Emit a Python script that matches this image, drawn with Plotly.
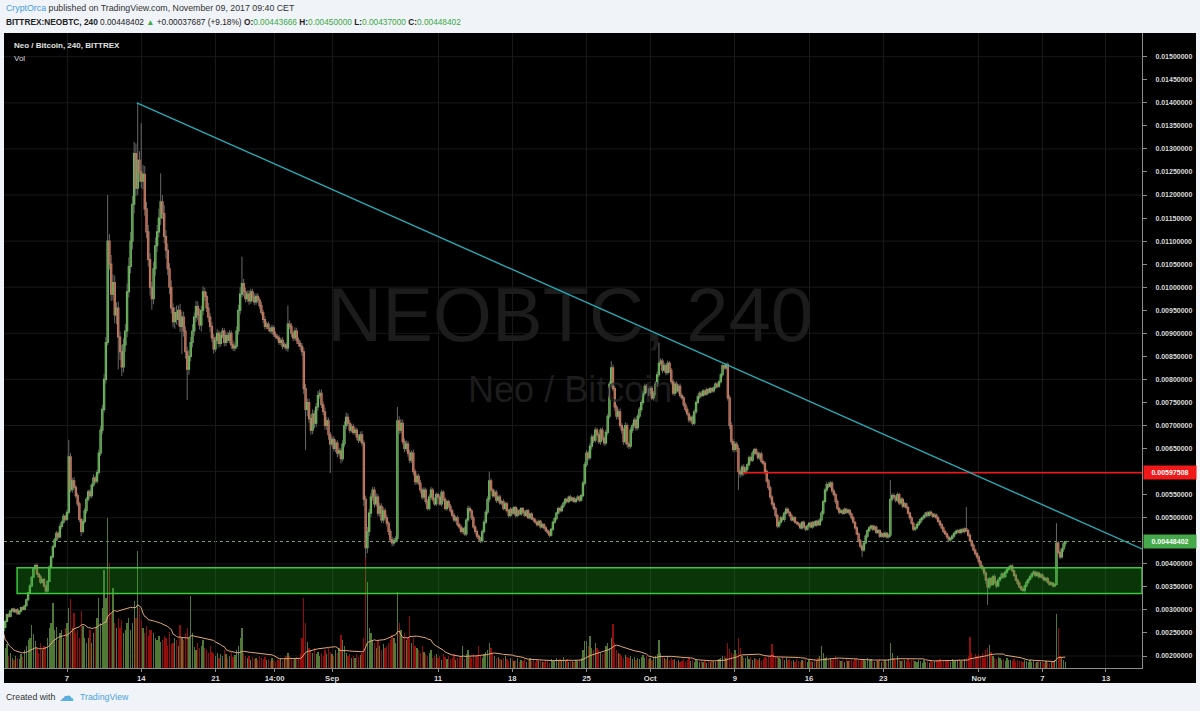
import numpy as np
import pandas as pd
import plotly.graph_objects as go

# ---------------- data (prices in units of 1e-5 BTC, 4h bars from 2017-08-01 00:00) -------------
UNIT = 1e-5
first_open = 255
close_u = [
262,275,290,286,298,302, 296,300,292,297,305,301, 309,322,337,352,371,390, 396,378,372,360,366,352,
341,362,393,415,437,452, 466,458,481,490,503,497, 512,632,561,580,566,548, 530,496,470,492,515,540,
556,548,571,586,579,598, 640,690,735,800,880,1100, 1050,985,1010,940,955,892, 860,827,875,905,990,1045,
1100,1180,1290,1215,1275,1250, 1230,1245,1170,1120,1060,1000, 975,1040,1090,1120,1150,1185,
1160,1110,1080,1040,1000,955, 925,945,930,950,915,935, 905,860,822,850,880,905, 935,958,940,918,950,990,
980,955,935,915,890,866, 885,900,878,895,905,880, 895,885,900,875,868,872, 905,950,985,1008,990,975,
985,970,990,978,968,980, 972,960,945,930,915,920, 910,905,912,898,893,890, 880,885,872,875,868,920,
915,900,890,905,885,878, 872,860,780,735,750,715, 690,725,705,740,765,770, 745,730,700,710,680,660,
670,650,662,640,645,628, 660,700,718,705,690,698, 685,690,675,668,680,662, 540,435,470,510,545,560,
530,545,510,525,495,515, 500,488,470,452,445,450, 455,710,690,705,665,650, 660,640,625,640,600,578,
590,575,560,545,560,535, 520,545,560,540,530,550, 545,530,555,540,520,535, 525,515,505,495,500,485,
480,470,476,465,495,520, 515,500,480,470,460,455, 450,470,490,512,540,580, 560,548,555,538,545,532,
535,520,530,515,505,518, 510,522,505,515,508,520, 512,505,515,500,508,498, 495,490,485,492,480,485,
478,472,468,462,475,490, 498,510,520,515,525,532, 540,535,545,538,542,535, 540,545,538,548,575,615,
640,630,655,675,668,690, 680,665,690,672,662,685, 720,790,825,780,740,720, 730,700,690,665,700,660,
655,690,700,712,695,720, 735,750,770,785,775,770,
780,760,770,790,810,835, 840,820,830,815,835,820, 795,770,790,775,785,765, 760,745,735,725,712,718,
705,730,750,762,770,765, 775,768,778,772,780,775, 782,790,785,795,810,830, 825,832,760,700,665,648,
660,650,600,595,610,598, 605,615,630,625,640,648, 640,630,638,622,618,600, 580,565,545,530,520,505,
482,490,500,496,510,518, 512,505,495,500,490,488, 485,478,490,480,475,482, 488,480,490,484,492,485,
495,510,535,560,572,568, 575,558,550,535,520,512, 515,510,518,512,516,508, 500,490,478,465,450,438,
430,445,460,472,478,482, 475,480,468,472,460,465, 460,466,458,462,540,548, 545,538,550,532,540,525,
530,522,510,500,488,475, 478,485,490,496,500,504, 510,505,512,508,503,506, 500,492,485,478,470,465,
458,452,455,460,466,470, 472,468,474,470,476,472, 462,450,440,430,422,415,
405,395,390,380,365,350, 368,355,372,360,352,365, 370,378,372,382,388,392, 395,385,375,365,358,350,
345,342,352,360,366,372, 378,382,375,380,372,376, 370,365,368,360,356,358, 352,355,445,425,415,432,
443.666,448.402,
]
wick_up_u = [
2,3,2,4,2,2, 3,2,4,2,2,3, 2,3,2,4,2,3, 4,5,3,4,2,4, 3,2,4,3,4,4, 5,4,6,4,5,4,
6,37,8,6,8,5, 6,5,4,5,6,5, 5,6,4,8,5,6, 8,9,10,12,12,100, 15,20,18,15,12,14, 12,15,14,15,18,20,
20,18,25,22,125,20, 106,20,18,15,15,14, 12,15,18,15,20,62, 15,18,14,15,12,15, 10,12,15,11,14,12,
12,10,11,14,12,15, 10,12,11,14,10,12, 9,10,11,9,10,8, 8,9,6,8,7,6, 6,8,7,6,9,8,
10,12,15,58,10,9, 8,9,7,6,8,7, 7,6,8,6,7,6, 5,6,7,5,6,5, 6,5,7,6,5,40,
8,7,6,8,7,6, 6,7,9,10,9,8, 9,10,8,9,10,8, 8,7,9,8,7,6,
6,7,8,6,7,6, 8,9,10,8,7,6, 6,7,5,6,7,8, 6,8,10,9,8,7, 7,8,6,7,6,8,
6,7,5,6,7,6, 6,30,10,9,8,7, 8,6,7,6,8,6, 5,6,7,5,6,5, 5,6,7,5,4,5,
4,5,6,4,5,4, 4,5,4,5,4,5, 4,5,4,5,4,6, 5,4,5,4,5,4, 4,5,6,5,6,20, 5,4,6,5,4,5,
4,5,4,5,4,5, 4,3,4,5,4,3, 3,4,3,4,3,4, 3,4,3,4,3,4, 3,4,3,4,3,4, 4,3,4,3,4,3, 3,4,3,4,3,4,
3,4,3,4,5,6, 6,5,7,6,5,6, 5,6,5,6,5,6, 5,6,15,7,6,5, 6,7,5,6,7,5,
5,6,5,6,5,6, 5,6,5,6,5,6,
5,6,5,6,7,45, 6,5,6,5,6,5, 5,6,5,6,5,6, 5,4,5,6,5,4, 4,5,4,5,4,5,
4,3,4,3,4,3, 3,4,3,4,4,3, 3,4,5,6,7,6, 6,5,7,6,5,6, 5,4,5,4,5,3, 4,5,4,5,4,5,
5,4,5,4,5,4, 4,5,4,5,4,5, 4,3,4,3,4,3, 3,4,3,4,3,4, 3,4,3,4,3,4, 4,5,4,5,6,5,
5,4,5,4,5,4, 4,3,4,3,4,3, 3,4,3,4,3,4, 4,3,4,3,4,3, 3,4,3,4,3,4, 3,4,3,4,42,5,
5,4,5,4,5,4, 4,3,4,3,4,3, 3,4,3,4,3,4, 3,4,3,4,3,4, 3,4,3,4,3,4, 3,4,3,4,3,4,
3,4,3,4,3,47, 3,4,3,4,3,4,
4,3,4,3,4,3, 4,3,4,5,3,4, 3,4,3,4,3,4, 3,4,3,4,3,4, 3,4,3,4,3,4, 3,4,3,4,3,4, 3,4,3,4,3,4,
2,3,43,5,4,3,
4,1.598,
]
wick_dn_u = [
2,2,1,3,2,2, 2,3,2,3,1,2, 2,2,3,2,2,2, 3,3,2,4,3,4, 4,3,2,3,3,2, 3,4,3,5,3,4,
4,5,6,7,5,5, 5,6,10,4,5,6, 5,5,6,4,5,5, 5,6,8,7,9,6, 12,15,14,18,20,70, 18,20,12,15,14,12,
15,18,20,18,15,22, 15,18,15,14,15,18, 24,12,15,14,12,15, 12,15,18,14,15,12, 12,15,11,14,12,60,
12,15,67,12,11,10, 10,11,12,10,14,11, 10,9,11,12,9,10, 6,8,9,7,6,8, 8,6,7,9,6,7,
6,8,9,7,10,8, 7,8,6,9,7,6, 6,7,6,8,7,6, 6,5,7,6,5,6, 5,6,7,5,6,8,
6,8,7,6,8,7, 8,9,12,88,15,10, 10,9,11,9,8,7, 7,8,9,10,11,63,
7,6,8,9,7,10, 6,7,8,7,6,5, 5,6,7,6,5,7, 15,110,12,10,9,8, 8,6,7,8,6,7,
6,7,8,6,7,6, 5,8,9,7,6,8, 6,8,7,6,8,7, 6,5,7,6,5,6, 4,5,6,5,4,5,
5,4,6,5,4,5, 5,4,5,4,5,4, 5,4,5,4,5,4, 4,5,4,6,5,6, 5,4,5,4,5,6, 4,5,4,6,5,4,
5,4,5,4,5,4, 3,4,5,4,3,4, 4,3,4,3,4,3, 4,3,4,3,4,3, 4,3,4,5,3,4, 3,4,3,4,3,4, 4,3,4,3,4,3,
4,3,4,3,4,5, 5,6,5,7,6,5, 6,5,7,5,6,5, 6,5,7,6,8,7, 7,6,8,7,6,8,
6,5,6,5,6,5, 5,6,5,6,5,6,
6,5,6,5,6,5, 5,6,5,6,5,6, 6,5,6,5,6,5, 4,5,6,5,6,5, 5,4,5,4,5,4,
3,4,3,4,3,4, 4,3,4,3,4,4, 4,5,6,8,7,6, 6,7,40,8,6,7, 4,5,4,5,4,5, 5,4,5,4,5,6,
4,5,6,5,4,5, 5,4,5,4,5,4, 3,4,3,4,3,4, 4,3,4,3,4,3, 4,3,4,3,4,3, 3,4,5,4,5,4,
4,5,4,5,4,5, 3,4,3,4,3,4, 4,3,4,3,4,5, 15,4,3,4,3,4, 4,3,4,3,4,3, 4,3,4,3,4,5,
4,5,4,5,4,5, 3,4,3,4,3,4, 4,3,4,3,4,3, 4,3,4,3,4,3, 4,3,4,3,4,3, 4,3,4,3,4,3,
4,3,4,3,4,3, 4,3,4,3,4,5,
5,4,5,6,8,39, 5,4,3,4,5,3, 4,3,4,3,4,3, 4,3,4,3,4,3, 4,3,4,3,4,3, 4,3,4,3,4,3, 4,3,4,3,4,3,
3,3,2,4,5,3,
6,6.666,
]
volume = [
36,20,24,12,15,10, 8,12,10,9,14,11, 18,22,28,30,43,34, 27,20,15,25,18,22, 21,30,40,45,65,38,
41,28,35,38,30,40, 45,60,69,40,55,35, 38,30,57,42,30,25, 30,38,25,35,40,50, 70,45,60,98,70,150,
105,55,80,45,40,50, 40,48,35,38,45,50, 38,45,67,50,117,60, 48,40,35,42,32,38, 38,35,30,28,32,26,
28,32,30,22,36,24, 25,30,28,22,43,30, 28,35,40,30,72,35, 21,18,25,20,22,28, 20,18,15,22,16,14,
12,15,10,14,12,18, 14,10,12,16,11,13, 18,22,30,40,15,12, 10,12,8,11,9,10, 8,12,10,9,11,8,
9,7,10,8,6,9, 8,10,7,9,12,15, 12,10,8,9,11,10, 14,30,70,45,26,20, 18,15,20,14,16,12,
15,12,18,14,20,16,
14,12,18,15,20,33, 28,22,15,12,14,10, 12,10,14,11,13,15, 30,110,86,40,35,28, 25,20,28,22,18,24,
20,22,25,28,33,30, 25,76,45,38,30,35, 28,30,52,25,30,22, 20,18,15,22,16,14, 12,15,18,10,12,14,
10,12,8,14,11,9, 12,9,10,14,8,10, 10,12,22,9,14,18, 12,10,14,11,13,22, 12,10,14,16,18,25,
20,15,12,10,11,9, 8,10,12,9,7,10, 9,7,8,10,6,8, 7,9,6,8,10,7, 8,6,9,7,8,6, 6,8,7,5,9,7,
8,10,7,9,8,11, 7,9,6,8,7,6, 8,7,9,10,18,27, 27,22,32,20,18,25, 20,18,15,14,16,22,
25,20,30,44,25,18, 15,14,12,10,13,11, 10,12,9,11,8,10, 9,11,13,10,12,9,
10,8,11,12,14,28, 15,12,10,9,11,8, 10,8,9,7,8,6, 7,9,6,8,10,7, 8,6,9,7,6,8, 6,7,5,8,6,7,
7,6,8,9,10,12, 12,10,25,19,15,14, 18,14,30,20,12,10, 10,12,9,11,8,10, 9,8,10,7,9,11,
10,12,13,24,15,12, 12,10,9,11,8,10, 8,9,7,8,6,9, 7,6,8,7,9,6, 8,7,6,9,8,10, 12,22,15,10,11,9,
10,8,9,12,10,8, 7,8,6,9,7,8, 8,7,9,10,8,7, 9,8,7,10,8,9, 7,6,8,7,9,6, 7,8,6,9,25,15,
10,8,12,9,7,8, 8,7,9,6,8,9, 7,6,8,7,5,8, 6,7,5,8,6,7, 8,7,9,6,8,7, 7,8,6,9,7,8,
8,9,7,8,9,10, 12,31,15,10,14,12,
14,12,15,10,18,20, 23,16,12,10,9,11, 10,8,9,7,10,8, 8,7,9,6,8,7, 7,6,8,7,6,8, 6,7,5,6,7,6,
6,5,7,6,5,6, 6,8,54,40,12,10,
8,6,
]
tick_dates = ["2017-08-07", "2017-08-14", "2017-08-21", "2017-08-26 14:00", "2017-09-01",
              "2017-09-11", "2017-09-18", "2017-09-25", "2017-10-01", "2017-10-09",
              "2017-10-16", "2017-10-23", "2017-11-01", "2017-11-07", "2017-11-13"]
tick_text = ["7", "14", "21", "14:00", "Sep", "11", "18", "25", "Oct", "9", "16", "23", "Nov", "7", "13"]

# drawings on the chart
last_price = 0.00448402
resistance = 0.00597508
resistance_start = "2017-10-09 18:00"
zone_low, zone_high, zone_start = 0.003357, 0.003916, "2017-08-02 07:00"
trend_p1 = ("2017-08-13 14:00", 0.01400)
trend_p2 = ("2017-10-08 08:00", 0.00831)

X_RANGE = ["2017-08-01 01:21", "2017-11-16 09:36"]
Y_RANGE = [0.00174, 0.015514]

# ---------------- build ----------------
n = min(len(close_u), len(wick_up_u), len(wick_dn_u), len(volume))
t = pd.date_range("2017-08-01 00:00", periods=n, freq="4h")
c = np.array(close_u[:n], float) * UNIT
o = np.concatenate([[first_open], np.array(close_u[:n - 1], float)]) * UNIT
hi = np.maximum(o, c) + np.array(wick_up_u[:n], float) * UNIT
lo = np.minimum(o, c) - np.array(wick_dn_u[:n], float) * UNIT
vol = np.array(volume[:n], float)
up = c >= o
vol_ma = pd.Series(vol).rolling(20, min_periods=1).mean().values

FONT = "Liberation Sans, Arial, sans-serif"

x0, x1 = pd.Timestamp(X_RANGE[0]), pd.Timestamp(X_RANGE[1])
wm_x = x0 + (x1 - x0) * 0.4975
wm_y = [Y_RANGE[0] + f * (Y_RANGE[1] - Y_RANGE[0]) for f in (0.545, 0.433)]

wx, wy = [], []
for ti, l, h in zip(t, lo, hi):
    wx += [ti, ti, None]
    wy += [l, h, None]

fig = go.Figure()
fig.add_trace(go.Scatter(x=[wm_x, wm_x], y=wm_y, mode="text", text=["NEOBTC, 240", "Neo / Bitcoin"],
                         textfont=dict(size=[76, 36], color="#1c1c1c", family=FONT),
                         hoverinfo="skip", showlegend=False))
fig.add_trace(go.Scatter(x=wx, y=wy, mode="lines", line=dict(color="#747474", width=0.9),
                         hoverinfo="skip", showlegend=False))
fig.add_trace(go.Candlestick(x=t, open=o, close=c, high=np.maximum(o, c), low=np.minimum(o, c),
                             increasing=dict(line=dict(color="#66dd4c", width=1.1), fillcolor="#5cd646"),
                             decreasing=dict(line=dict(color="#f27a4e", width=1.1), fillcolor="#ee6f48"),
                             whiskerwidth=0, showlegend=False, hoverinfo="skip"))
fig.add_trace(go.Bar(x=t, y=vol, yaxis="y2", width=4 * 3600 * 1000 * 0.72,
                     marker=dict(color=np.where(up, "rgba(84,128,58,0.95)", "rgba(155,14,14,0.95)"),
                                 line=dict(width=0)),
                     showlegend=False, hoverinfo="skip"))
fig.add_trace(go.Scatter(x=t, y=vol_ma, yaxis="y2", mode="lines",
                         line=dict(color="#e2a878", width=1), showlegend=False, hoverinfo="skip"))

# shapes
px_w = 1200 - 4 - 58
px_h = 711 - 33 - 43
shapes = [dict(type="rect", xref="paper", yref="paper", x0=0, x1=(1196 - 4) / px_w,
               y0=(668 - 683) / px_h, y1=1.0, fillcolor="#000000", line=dict(width=0), layer="below")]
for gv in np.arange(0.002, 0.0155, 0.001):
    shapes.append(dict(type="line", xref="x", yref="y", x0=X_RANGE[0], x1=X_RANGE[1], y0=gv, y1=gv,
                       line=dict(color="#181818", width=1), layer="below"))
shapes.append(dict(type="line", xref="x", yref="y", x0=X_RANGE[0], x1=X_RANGE[1],
                   y0=last_price, y1=last_price, line=dict(color="#6f9f6f", width=1, dash="dot"), layer="below"))
shapes.append(dict(type="rect", xref="x", yref="y", x0=zone_start, x1=X_RANGE[1], y0=zone_low, y1=zone_high,
                   fillcolor="rgba(30,175,30,0.30)", line=dict(color="#3cc83c", width=1.5), layer="above"))
shapes.append(dict(type="line", xref="x", yref="y", x0=resistance_start, x1=X_RANGE[1],
                   y0=resistance, y1=resistance, line=dict(color="#f01818", width=1.5), layer="above"))
p1t, p2t = pd.Timestamp(trend_p1[0]), pd.Timestamp(trend_p2[0])
slope = (trend_p2[1] - trend_p1[1]) / (p2t - p1t).total_seconds()
trend_end_v = trend_p1[1] + slope * (x1 - p1t).total_seconds()
shapes.append(dict(type="line", xref="x", yref="y", x0=p1t, y0=trend_p1[1], x1=x1, y1=trend_end_v,
                   line=dict(color="#25aab6", width=1.4), layer="above"))


def py(p):
    return (668 - p) / px_h


def pxx(p):
    return (p - 4) / px_w


GREEN = "#3aaa45"
annotations = [
    dict(x=0, y=py(8), xref="paper", yref="paper", xanchor="left", yanchor="middle", showarrow=False,
         text="<span style='color:#3e9fdc'>CryptOrca</span> published on TradingView.com, November 09, 2017 09:40 CET",
         font=dict(size=8.8, color="#333333", family=FONT)),
    dict(x=0, y=py(22), xref="paper", yref="paper", xanchor="left", yanchor="middle", showarrow=False,
         text=("<b>BITTREX:NEOBTC, 240</b> 0.00448402 <span style='color:%s'>▲</span> +0.00037687 (+9.18%%) "
               "<b>O:</b><span style='color:%s'>0.00443666</span> <b>H:</b><span style='color:%s'>0.00450000</span> "
               "<b>L:</b><span style='color:%s'>0.00437000</span> <b>C:</b><span style='color:%s'>0.00448402</span>")
              % (GREEN, GREEN, GREEN, GREEN, GREEN),
         font=dict(size=8.3, color="#222222", family=FONT)),
    dict(x=pxx(12), y=py(45), xref="paper", yref="paper", xanchor="left", yanchor="middle", showarrow=False,
         text="<b>Neo / Bitcoin, 240, BITTREX</b>", font=dict(size=8, color="#e2e2e2", family=FONT)),
    dict(x=pxx(12), y=py(59), xref="paper", yref="paper", xanchor="left", yanchor="middle", showarrow=False,
         text="Vol", font=dict(size=8, color="#d6d6d6", family=FONT)),
    dict(x=0, y=py(697), xref="paper", yref="paper", xanchor="left", yanchor="middle", showarrow=False,
         text="Created with", font=dict(size=8.8, color="#333333", family=FONT)),
    dict(x=pxx(57), y=py(696), xref="paper", yref="paper", xanchor="left", yanchor="middle", showarrow=False,
         text="☁", font=dict(size=15, color="#5aaee0", family="DejaVu Sans")),
    dict(x=pxx(78), y=py(697), xref="paper", yref="paper", xanchor="left", yanchor="middle", showarrow=False,
         text="TradingView", font=dict(size=8.8, color="#4aa3dc", family=FONT)),
    dict(x=1, xshift=1, y=resistance, xref="paper", yref="y", xanchor="left", yanchor="middle", showarrow=False,
         text="<b>0.00597508</b>", bgcolor="#f01818", width=50, height=11, borderpad=1,
         font=dict(size=7, color="#ffffff", family=FONT)),
    dict(x=1, xshift=1, y=last_price, xref="paper", yref="y", xanchor="left", yanchor="middle", showarrow=False,
         text="<b>0.00448402</b>", bgcolor="#45a84a", width=50, height=11, borderpad=1,
         font=dict(size=7, color="#ffffff", family=FONT)),
]

# price-scale ticks every 0.0005, except where the two price labels sit
y_tick_vals = [round(0.002 + 0.0005 * k, 4) for k in range(27)]
y_tick_vals = [v for v in y_tick_vals if abs(v - resistance) > 0.0003 and abs(v - last_price) > 0.0003]

xtickfont = dict(size=7.7, color="#dcdcdc", family=FONT, weight="bold")
ytickfont = dict(size=7, color="#dcdcdc", family=FONT, weight="bold")
fig.update_layout(
    width=1200, height=711, autosize=False,
    margin=dict(l=4, r=58, t=33, b=43),
    paper_bgcolor="#f0f3f7", plot_bgcolor="#000000",
    showlegend=False, hovermode=False, bargap=0, boxgap=0.0,
    shapes=shapes, annotations=annotations,
    xaxis=dict(type="date", range=X_RANGE, tickmode="array", tickvals=tick_dates, ticktext=tick_text,
               tickfont=xtickfont, showgrid=True, gridcolor="#181818", showline=True, linecolor="#8c8c8c",
               ticks="outside", ticklen=3, tickcolor="#8c8c8c", zeroline=False,
               rangeslider=dict(visible=False), fixedrange=True),
    yaxis=dict(side="right", range=Y_RANGE, tickmode="array", tickvals=y_tick_vals, tickformat=".8f",
               tickfont=ytickfont, showgrid=False, showline=True, linecolor="#8c8c8c", ticks="outside",
               ticklen=4, tickcolor="#8c8c8c", ticklabelstandoff=7, zeroline=False, fixedrange=True),
    yaxis2=dict(overlaying="y", range=[0, px_h], visible=False, fixedrange=True),
)

fig.write_html("out.html", config={"displayModeBar": False},
               post_script="document.body.style.margin='0px';document.body.style.overflow='hidden';")
